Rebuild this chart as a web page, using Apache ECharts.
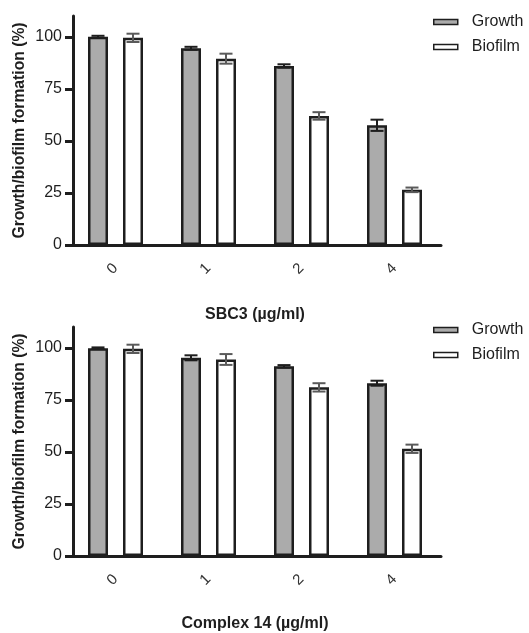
<!DOCTYPE html>
<html>
<head>
<meta charset="utf-8">
<script src="https://cdn.jsdelivr.net/npm/echarts@6/dist/echarts.min.js"></script>
<style>
  html, body { margin: 0; padding: 0; background: #fff; }
  #chart { width: 529px; height: 633px; }
</style>
</head>
<body>
<div id="chart"></div>
<script>
// ---- data ----
const categories = ['0', '1', '2', '4'];
const yTicks = [0, 25, 50, 75, 100];
const seriesNames = ['Growth', 'Biofilm'];
const xTitles = ['SBC3 (µg/ml)', 'Complex 14 (µg/ml)'];
const yTitle = 'Growth/biofilm formation (%)';

const sbc3Growth = [100, 94.5, 86, 57.5];
const sbc3GrowthErr = [0.5, 0.7, 0.8, 2.7];
const sbc3Biofilm = [99.5, 89.5, 62, 26.5];
const sbc3BiofilmErr = [2, 2.4, 1.8, 1.1];

const c14Growth = [99.8, 95.2, 91.1, 83];
const c14GrowthErr = [0.4, 1.2, 0.6, 1.2];
const c14Biofilm = [99.5, 94.4, 81, 51.5];
const c14BiofilmErr = [2, 2.6, 2, 2];

// ---- style ----
const FONT = "'Liberation Sans', Arial, Helvetica, sans-serif";
const INK = '#1e1e1e';
const GREY = '#ababab';
const BAR_W = 20;
const BAR_GAP_PX = 15;
const ERR_COLORS = [INK, '#5a5a5a'];

const grids = [
  { left: 69, width: 372, top: 16, height: 229 },
  { left: 69, width: 372, top: 327, height: 229 }
];

function errRender(params, api) {
  const cat = api.value(0), v = api.value(1), e = api.value(2), which = api.value(3);
  const off = (which === 0 ? -1 : 1) * (BAR_W + BAR_GAP_PX) / 2;
  const top = api.coord([cat, v + e]);
  const bot = api.coord([cat, v - e]);
  const x = top[0] + off;
  const cap = 6.5;
  const st = { stroke: ERR_COLORS[which], lineWidth: 2 };
  return {
    type: 'group',
    children: [
      { type: 'line', shape: { x1: x, y1: top[1], x2: x, y2: bot[1] }, style: st },
      { type: 'line', shape: { x1: x - cap, y1: top[1], x2: x + cap, y2: top[1] }, style: st },
      { type: 'line', shape: { x1: x - cap, y1: bot[1], x2: x + cap, y2: bot[1] }, style: st }
    ]
  };
}

function errData(vals, errs, which) {
  return vals.map((v, i) => [i, v, errs[i], which]);
}

const xAxes = grids.map((g, i) => ({
  type: 'category',
  gridIndex: i,
  data: categories,
  name: xTitles[i],
  nameLocation: 'middle',
  nameMoveOverlap: false,
  nameGap: i === 0 ? 62 : 60,
  nameTextStyle: { fontFamily: FONT, fontSize: 16, fontWeight: 'bold', color: INK },
  axisLine: { lineStyle: { color: INK, width: 3 } },
  axisTick: { alignWithLabel: true, length: 10, lineStyle: { color: INK, width: 3 } },
  axisLabel: { rotate: 45, margin: 21, fontFamily: FONT, fontSize: 15, color: '#333' },
  splitLine: { show: false }
}));

const yAxes = grids.map((g, i) => ({
  type: 'value',
  gridIndex: i,
  min: 0,
  max: 110,
  interval: 25,
  offset: -4,
  name: yTitle,
  nameLocation: 'middle',
  nameMoveOverlap: false,
  nameRotate: 90,
  nameGap: 45,
  nameTextStyle: { fontFamily: FONT, fontSize: 15.7, fontWeight: 'bold', color: INK },
  axisLine: { show: true, lineStyle: { color: INK, width: 3 } },
  axisTick: { show: true, length: 8, customValues: yTicks, lineStyle: { color: INK, width: 3 } },
  axisLabel: { margin: 11, customValues: yTicks, fontFamily: FONT, fontSize: 16, color: INK },
  splitLine: { show: false }
}));

const datasets = [
  [sbc3Growth, sbc3GrowthErr, sbc3Biofilm, sbc3BiofilmErr],
  [c14Growth, c14GrowthErr, c14Biofilm, c14BiofilmErr]
];

const series = [];
datasets.forEach((d, i) => {
  series.push({
    name: seriesNames[0], type: 'bar', xAxisIndex: i, yAxisIndex: i,
    data: d[0], barWidth: BAR_W, barGap: (BAR_GAP_PX / BAR_W * 100) + '%',
    itemStyle: { color: GREY, borderColor: INK, borderWidth: 2.5 }
  });
  series.push({
    name: seriesNames[1], type: 'bar', xAxisIndex: i, yAxisIndex: i,
    data: d[2], barWidth: BAR_W, barGap: (BAR_GAP_PX / BAR_W * 100) + '%',
    itemStyle: { color: '#ffffff', borderColor: INK, borderWidth: 2.5 }
  });
  series.push({
    type: 'custom', xAxisIndex: i, yAxisIndex: i, z: 5,
    renderItem: errRender, data: errData(d[0], d[1], 0), encode: { x: 0, y: 1 }
  });
  series.push({
    type: 'custom', xAxisIndex: i, yAxisIndex: i, z: 5,
    renderItem: errRender, data: errData(d[2], d[3], 1), encode: { x: 0, y: 1 }
  });
});

const legendBase = {
  data: seriesNames,
  orient: 'vertical',
  left: 433,
  padding: 0,
  itemWidth: 24,
  itemHeight: 5,
  itemGap: 9,
  icon: 'rect',
  itemStyle: { borderWidth: 1.5, borderColor: INK },
  formatter: '{t|{name}}',
  textStyle: {
    rich: { t: { fontFamily: FONT, fontSize: 16, color: INK, padding: [0, 0, 0, 9] } }
  }
};

const option = {
  animation: false,
  backgroundColor: '#ffffff',
  grid: grids,
  xAxis: xAxes,
  yAxis: yAxes,
  legend: [
    Object.assign({}, legendBase, { top: 14 }),
    Object.assign({}, legendBase, { top: 322 })
  ],
  series: series
};

const chart = echarts.init(document.getElementById('chart'), null, { renderer: 'canvas' });
chart.setOption(option);
</script>
</body>
</html>
